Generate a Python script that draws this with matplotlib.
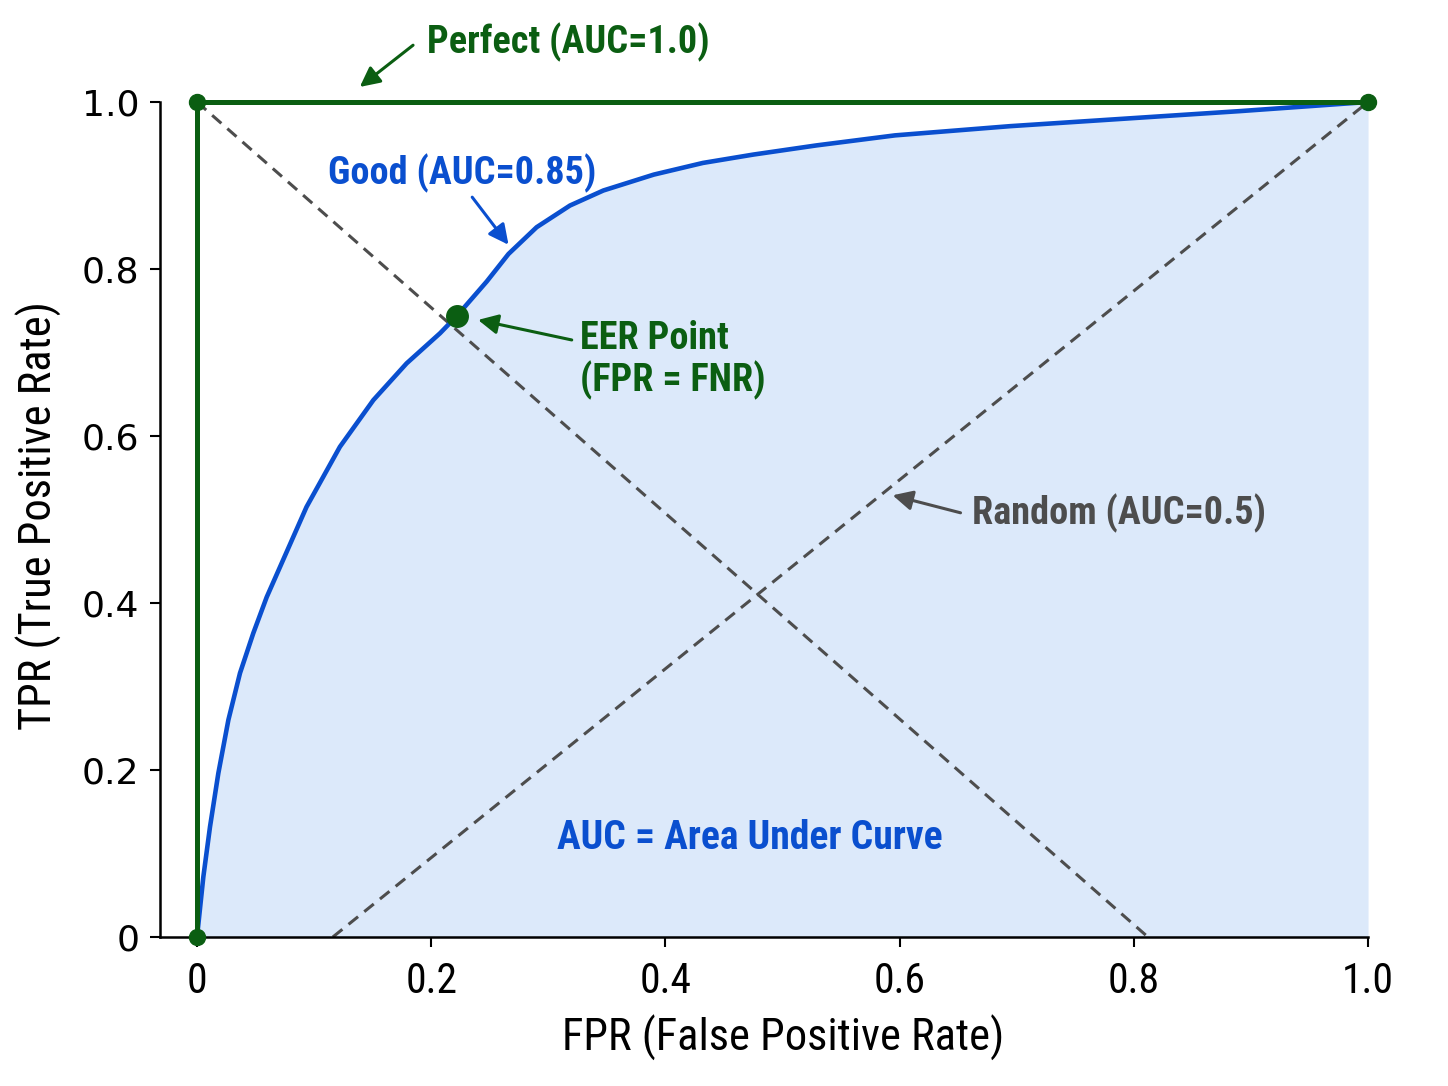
import matplotlib
matplotlib.use("Agg")
import matplotlib.pyplot as plt
from matplotlib import font_manager

# values
fpr_good = [0.0, 0.0054, 0.0111, 0.0182, 0.0268, 0.0367, 0.0481, 0.0595, 0.0935,
            0.122, 0.1506, 0.179, 0.2075, 0.222, 0.2474, 0.266, 0.290, 0.3185,
            0.347, 0.390, 0.432, 0.475, 0.529, 0.596, 0.694, 0.792, 0.890, 1.0]
tpr_good = [0.0, 0.072, 0.132, 0.196, 0.260, 0.316, 0.364, 0.407, 0.515,
            0.587, 0.643, 0.687, 0.723, 0.744, 0.785, 0.818, 0.850, 0.876,
            0.894, 0.913, 0.927, 0.937, 0.948, 0.960, 0.971, 0.980, 0.989, 1.0]

fpr_perfect = [0.0, 0.0, 1.0]
tpr_perfect = [0.0, 1.0, 1.0]

fpr_random = [0.116, 1.0]
tpr_random = [0.0, 1.0]

fpr_eer_line = [0.0, 0.812]
tpr_eer_line = [1.0, 0.0]

eer_fpr = 0.222
eer_tpr = 0.744

ticks = [0, 0.2, 0.4, 0.6, 0.8, 1.0]
tick_labels = ["0", "0.2", "0.4", "0.6", "0.8", "1.0"]

GREEN = "#0b5e12"
BLUE = "#0a4fcf"
GREY = "#4d4d4d"
FILL = "#dce9fa"


def pick_font(names, fallback="DejaVu Sans"):
    have = {f.name for f in font_manager.fontManager.ttflist}
    for n in names:
        if n in have:
            return n
    return fallback


narrow = pick_font(["Roboto Condensed", "Liberation Sans Narrow", "DejaVu Sans Condensed", "Roboto"])

fig = plt.figure(figsize=(14.48, 10.86), dpi=100)
ax = fig.add_axes([0.1105, 0.1372, 0.8343, 0.7689])

ax.fill_between(fpr_good, tpr_good, 0, color=FILL, lw=0, zorder=1)
ax.plot(fpr_random, tpr_random, color=GREY, lw=2.2, dashes=(4, 2.6), zorder=2)
ax.plot(fpr_eer_line, tpr_eer_line, color=GREY, lw=2.2, dashes=(4, 2.6), zorder=2)
ax.plot(fpr_good, tpr_good, color=BLUE, lw=3.3, zorder=3,
        solid_capstyle="round", solid_joinstyle="round")
ax.plot(fpr_perfect, tpr_perfect, color=GREEN, lw=3.6, marker="o", ms=11.5,
        zorder=4, clip_on=False)
ax.plot([eer_fpr], [eer_tpr], "o", color=GREEN, ms=15.5, zorder=5)

ax.set_xlim(-0.0316, 1.0)
ax.set_ylim(0, 1.0)
for s in ["top", "right"]:
    ax.spines[s].set_visible(False)
for s in ["left", "bottom"]:
    ax.spines[s].set_linewidth(1.8)

ax.set_xticks(ticks)
ax.set_xticklabels(tick_labels, fontfamily=narrow, fontsize=30)
ax.set_yticks(ticks)
ax.set_yticklabels(tick_labels, fontfamily="DejaVu Sans", fontsize=26)
ax.tick_params(axis="both", length=7, width=1.5, direction="out")
ax.tick_params(axis="x", pad=10)
ax.tick_params(axis="y", pad=8)

ax.set_xlabel("FPR (False Positive Rate)", fontfamily=narrow, fontsize=32)
ax.xaxis.set_label_coords(0.5157, -0.093)
ax.set_ylabel("TPR (True Positive Rate)", fontfamily=narrow, fontsize=32)
ax.yaxis.set_label_coords(-0.081, 0.505)

# arrows and labels
def arrow(head, tail, color):
    ax.annotate("", xy=head, xytext=tail, annotation_clip=False,
                arrowprops=dict(arrowstyle="-|>", color=color, lw=2.2,
                                mutation_scale=30, shrinkA=0, shrinkB=0))

arrow((0.139, 1.018), (0.1845, 1.068), GREEN)
arrow((0.266, 0.829), (0.235, 0.886), BLUE)
arrow((0.240, 0.739), (0.320, 0.715), GREEN)
arrow((0.594, 0.529), (0.652, 0.508), GREY)

txt = dict(fontfamily=narrow, fontweight="bold", va="center", ha="left", clip_on=False)
ax.text(0.196, 1.072, "Perfect (AUC=1.0)", color=GREEN, fontsize=27.5, **txt)
ax.text(0.112, 0.915, "Good (AUC=0.85)", color=BLUE, fontsize=27.5, **txt)
ax.text(0.327, 0.691, "EER Point\n(FPR = FNR)", color=GREEN, fontsize=27.5,
        linespacing=1.1, **txt)
ax.text(0.662, 0.508, "Random (AUC=0.5)", color=GREY, fontsize=27.5, **txt)
ax.text(0.307, 0.119, "AUC = Area Under Curve", color=BLUE, fontsize=28.5, **txt)

fig.savefig("out.png", dpi=100)
